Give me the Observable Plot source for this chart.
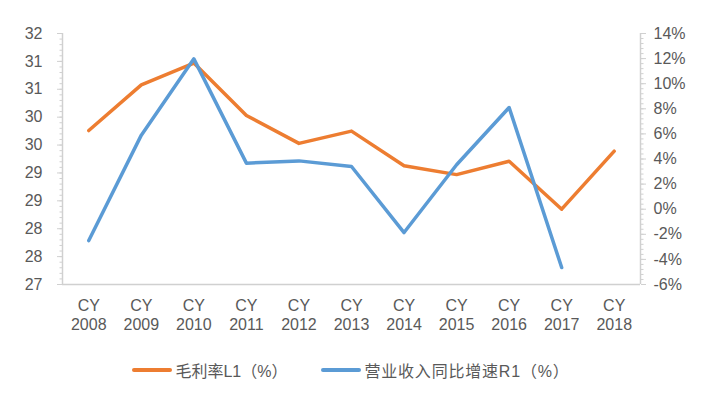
<!DOCTYPE html>
<html><head><meta charset="utf-8">
<script src="https://cdn.jsdelivr.net/npm/d3@7"></script>
<script src="https://cdn.jsdelivr.net/npm/@observablehq/plot@0.6"></script>
<style>
body{margin:0;background:#fff;}
#wrap{width:706px;height:394px;position:relative;font-family:"Liberation Sans","Noto Sans CJK SC",sans-serif;color:#595959;}
#legend{display:flex;justify-content:center;align-items:center;gap:34px;font-size:16px;height:49px;margin-left:-4px;}
.item{display:flex;align-items:center;}
.sw{display:inline-block;width:40px;height:4px;border-radius:2px;margin-right:3px;}
.t2{letter-spacing:0.8px;}
</style></head><body>
<div id="wrap"><div id="chart"></div><div id="legend"></div></div>
<script>
const years = [2008, 2009, 2010, 2011, 2012, 2013, 2014, 2015, 2016, 2017, 2018];
const grossMargin = [30.26, 31.08, 31.47, 30.53, 30.03, 30.25, 29.63, 29.47, 29.71, 28.85, 29.89];
const revenueGrowth = [-2.5, 5.9, 11.98, 3.67, 3.85, 3.4, -1.86, 3.54, 8.1, -4.65, null];
const seriesNames = ["毛利率L1（%）", "营业收入同比增速R1（%）"];
const seriesColors = ["#ED7D31", "#5B9BD5"];
const leftTicks = [27.5, 28, 28.5, 29, 29.5, 30, 30.5, 31, 31.5, 32];
const leftTickLabels = ["27", "28", "28", "29", "29", "30", "30", "31", "31", "32"];
const rightTicks = [-6, -4, -2, 0, 2, 4, 6, 8, 10, 12, 14];
const rightTickLabels = ["-6%", "-4%", "-2%", "0%", "2%", "4%", "6%", "8%", "10%", "12%", "14%"];

const L0 = 27.5, L1 = 32, R0 = -6, R1 = 14;
const toLeft = v => L0 + (v - R0) * (L1 - L0) / (R1 - R0);

const leftMinor = d3.range(0, 46).map(i => L0 + i * 0.1);
const rightMinor = d3.range(0, 51).map(i => toLeft(R0 + i * 0.4));

const orangeData = years.map((y, i) => ({year: y, v: grossMargin[i]}));
const blueData = years.map((y, i) => ({year: y, v: revenueGrowth[i]})).filter(d => d.v != null).map(d => ({year: d.year, v: toLeft(d.v)}));

const axisColor = "#d0d0d0";
const textColor = "#595959";

const chart = Plot.plot({
  width: 706,
  height: 345,
  marginLeft: 62,
  marginRight: 66,
  marginTop: 33,
  marginBottom: 61,
  style: {fontFamily: '"Liberation Sans","Noto Sans CJK SC",sans-serif', fontSize: "16px", color: textColor, background: "#fff"},
  x: {domain: [2007.5, 2018.5], axis: null},
  y: {domain: [L0, L1], axis: null},
  marks: [
    Plot.axisY({ticks: leftMinor, tickSize: 2.5, tickFormat: () => "", stroke: axisColor, label: null}),
    Plot.axisY({ticks: leftTicks, tickSize: 5, tickPadding: 15, tickFormat: (d, i) => leftTickLabels[i], stroke: axisColor, fill: textColor, fontSize: 16, label: null}),
    Plot.axisY({anchor: "right", ticks: rightMinor, tickSize: 2.5, tickFormat: () => "", stroke: axisColor, label: null}),
    Plot.axisY({anchor: "right", ticks: rightTicks.map(toLeft), tickSize: 5, tickPadding: 8, tickFormat: (d, i) => rightTickLabels[i], stroke: axisColor, fill: textColor, fontSize: 16, label: null}),
    Plot.axisX({ticks: years, tickSize: 0, tickPadding: 13, tickFormat: d => "CY\n" + d, lineHeight: 1.2, fill: textColor, fontSize: 16, label: null}),
    Plot.ruleY([L0], {stroke: axisColor, strokeWidth: 1.5}),
    Plot.ruleX([2007.5, 2018.5], {stroke: axisColor, strokeWidth: 1.5}),
    Plot.line(orangeData, {x: "year", y: "v", stroke: seriesColors[0], strokeWidth: 3.5, strokeLinejoin: "round", strokeLinecap: "round"}),
    Plot.line(blueData, {x: "year", y: "v", stroke: seriesColors[1], strokeWidth: 3.5, strokeLinejoin: "round", strokeLinecap: "round"})
  ]
});
document.getElementById("chart").appendChild(chart);

const legend = document.getElementById("legend");
seriesNames.forEach((n, i) => {
  const it = document.createElement("div");
  it.className = "item";
  it.innerHTML = `<span class="sw" style="background:${seriesColors[i]}"></span><span class="t${i + 1}">${n}</span>`;
  legend.appendChild(it);
});
</script></body></html>
